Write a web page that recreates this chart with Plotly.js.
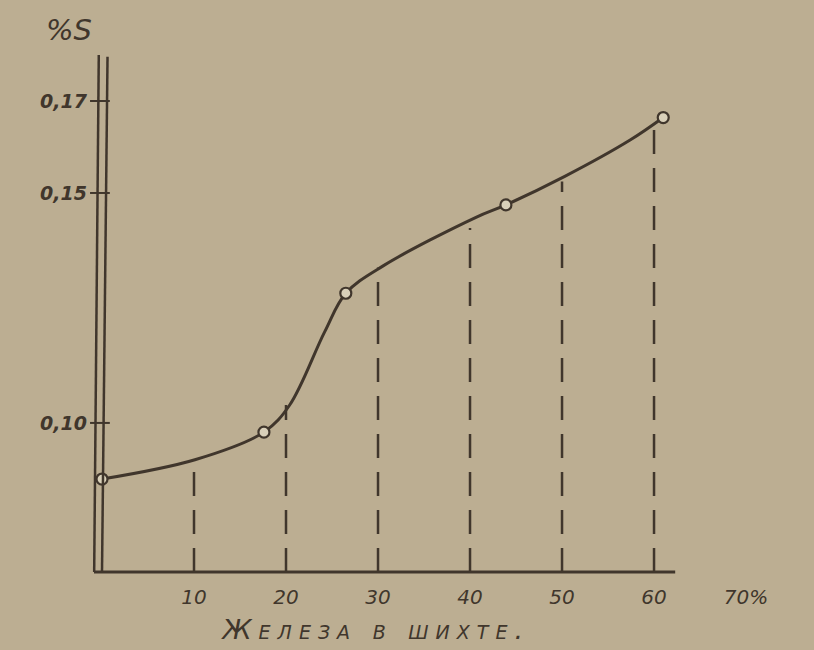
<!DOCTYPE html>
<html>
<head>
<meta charset="utf-8">
<script src="https://cdn.plot.ly/plotly-3.0.1.min.js"></script>
<style>
html,body{margin:0;padding:0;background:#bcae92;}
.wide-text text{letter-spacing:7px;}
</style>
</head>
<body>
<div id="chart" style="width:814px;height:650px;"></div>
<script>
// Curve of %S vs share of iron in the charge
const curveX = [0, 10.1, 17.6, 20.4, 24.2, 26.5, 30.6, 40.65, 43.9, 50.3, 57.4, 61.0];
const curveY = [0.0878, 0.0920, 0.0980, 0.1039, 0.1198, 0.1282, 0.1342, 0.1447, 0.1474, 0.1536, 0.1615, 0.1664];

// Measured points (open circles)
const pointX = [0, 17.6, 26.5, 43.9, 61.0];
const pointY = [0.0878, 0.0980, 0.1282, 0.1474, 0.1664];

// Dashed drop lines at the x ticks
const dropX = [10, 20, 30, 40, 50, 60];
const dropTop = [0.0920, 0.1039, 0.1338, 0.1424, 0.1525, 0.1648];
const baseY = 0.0676;

// Tick labels
const xTickVals = [10, 20, 30, 40, 50, 60, 70];
const xTickText = ['10', '20', '30', '40', '50', '60', '70%'];
const yTickVals = [0.10, 0.15, 0.17];
const yTickText = ['0,10', '0,15', '0,17'];

const ink = '#40362c';
const paper = '#bcae92';

const dx = [], dy = [];
dropX.forEach((x, i) => { dx.push(x, x, null); dy.push(baseY, dropTop[i], null); });

const traces = [
  { x: dx, y: dy, mode: 'lines', line: { color: ink, width: 2.5, dash: '24px,14px' }, hoverinfo: 'skip' },
  { x: curveX, y: curveY, mode: 'lines', line: { color: ink, width: 3, shape: 'spline', smoothing: 1 }, hoverinfo: 'skip' },
  { x: pointX, y: pointY, mode: 'markers', cliponaxis: false,
    marker: { symbol: 'circle', size: 11, color: '#d9d0b9', line: { color: ink, width: 2.2 } } }
];

const shapes = [
  // x axis line
  { type: 'line', xref: 'x', yref: 'y', x0: -0.87, x1: 62.3, y0: baseY, y1: baseY, line: { color: ink, width: 3 } },
  // double y axis line
  { type: 'line', xref: 'x', yref: 'y', x0: -0.85, x1: -0.35, y0: baseY, y1: 0.180, line: { color: ink, width: 2.5 } },
  { type: 'line', xref: 'x', yref: 'y', x0: 0.0, x1: 0.6, y0: baseY, y1: 0.1796, line: { color: ink, width: 2.5 } }
];
yTickVals.forEach(v => shapes.push({ type: 'line', xref: 'x', yref: 'y', x0: -1.3, x1: 0.85, y0: v, y1: v, line: { color: ink, width: 2 } }));

const layout = {
  width: 814, height: 650,
  paper_bgcolor: paper, plot_bgcolor: paper,
  margin: { l: 89, r: 10, t: 32, b: 73 },
  showlegend: false,
  xaxis: {
    range: [-1.413, 76.3], showgrid: false, zeroline: false, showline: false,
    tickmode: 'array', tickvals: xTickVals, ticktext: xTickText, ticks: '',
    ticklabelstandoff: 6,
    tickfont: { family: 'DejaVu Sans', size: 20, color: ink, style: 'italic' }
  },
  yaxis: {
    range: [0.0665, 0.185], showgrid: false, zeroline: false, showline: false,
    tickmode: 'array', tickvals: yTickVals, ticktext: yTickText, ticks: '',
    ticklabelstandoff: 1,
    tickfont: { family: 'DejaVu Sans', size: 19, color: ink, style: 'italic', weight: 'bold' }
  },
  shapes: shapes,
  annotations: [
    { xref: 'paper', yref: 'paper', x: -0.028, y: 1.004, text: '%S', showarrow: false, xanchor: 'center', yanchor: 'middle',
      font: { family: 'DejaVu Sans', size: 29, color: ink, style: 'italic' } },
    { xref: 'paper', yref: 'paper', x: 0.4, y: -0.097, text: 'Железа в шихте.', showarrow: false, xanchor: 'center', yanchor: 'middle',
      font: { family: 'DejaVu Sans', size: 27, color: ink, style: 'italic', variant: 'small-caps' } }
  ]
};

Plotly.newPlot('chart', traces, layout, { displayModeBar: false, staticPlot: true }).then(gd => {
  const ann = gd.querySelectorAll('.annotation');
  if (ann.length > 1) ann[1].classList.add('wide-text');
});
</script>
</body>
</html>
